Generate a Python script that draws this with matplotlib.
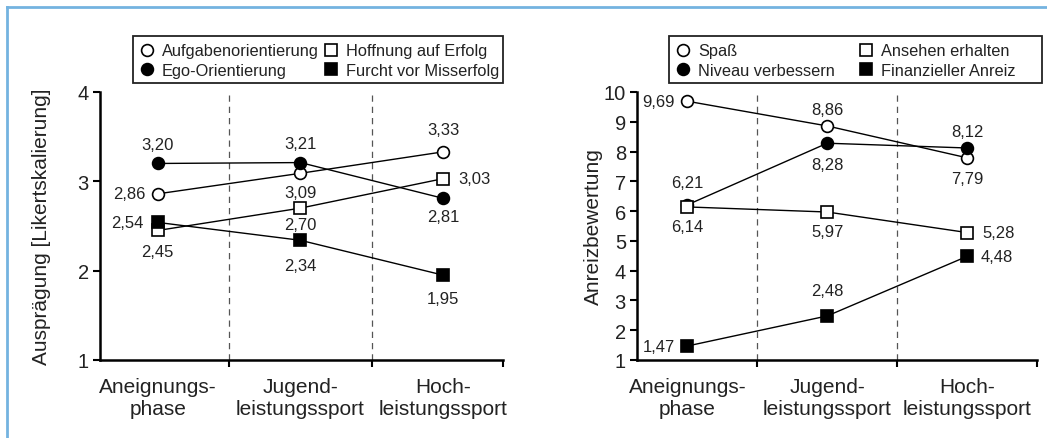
import matplotlib.pyplot as plt
from matplotlib.lines import Line2D
from matplotlib.patches import Rectangle

plt.rcParams['font.family'] = ['Liberation Sans', 'DejaVu Sans']

# Data
phases = ['Aneignungs-\nphase', 'Jugend-\nleistungssport', 'Hoch-\nleistungssport']

# left chart: Zielorientierung / Leistungsmotiv
aufgaben = [2.86, 3.09, 3.33]
ego = [3.20, 3.21, 2.81]
hoffnung = [2.45, 2.70, 3.03]
furcht = [2.54, 2.34, 1.95]

# right chart: Anreize
spass = [9.69, 8.86, 7.79]
niveau = [6.21, 8.28, 8.12]
ansehen = [6.14, 5.97, 5.28]
finanziell = [1.47, 2.48, 4.48]

# label offsets (points) per series and phase
left_series = [
    ('Aufgabenorientierung', aufgaben, 'o', 'white', [(-9, 0), (0, -14), (0, 16)]),
    ('Ego-Orientierung', ego, 'o', 'black', [(0, 14), (0, 14), (0, -13)]),
    ('Hoffnung auf Erfolg', hoffnung, 's', 'white', [(0, -15), (0, -12), (11, 0)]),
    ('Furcht vor Misserfolg', furcht, 's', 'black', [(-10, 0), (0, -18), (0, -17)]),
]
right_series = [
    ('Spaß', spass, 'o', 'white', [(-9, 0), (0, 12), (0, -15)]),
    ('Niveau verbessern', niveau, 'o', 'black', [(0, 16), (0, -15), (0, 12)]),
    ('Ansehen erhalten', ansehen, 's', 'white', [(0, -14), (0, -14), (11, 0)]),
    ('Finanzieller Anreiz', finanziell, 's', 'black', [(-9, 0), (0, 18), (10, 0)]),
]

TXT = '#222222'
W, H = 1047, 439

fig = plt.figure(figsize=(10.47, 4.39), dpi=100)
ax1 = fig.add_axes([100 / W, 1 - 361 / H, 403 / W, 268 / H])
ax2 = fig.add_axes([637 / W, 1 - 361 / H, 400 / W, 268 / H])


def draw(ax, series, ylim, yticks, ylabel, xlim, label_x):
    x = list(range(len(phases)))
    handles = []
    for name, vals, mk, fc, offs in series:
        ax.plot(x, vals, color='black', lw=1.0, marker=mk, ms=8.5,
                mfc=fc, mec='black', mew=1.2, zorder=3)
        handles.append(Line2D([], [], ls='none', marker=mk, ms=8.5,
                              mfc=fc, mec='black', mew=1.2, label=name))
        for xi, v, (dx, dy) in zip(x, vals, offs):
            ha = 'center' if dx == 0 else ('left' if dx > 0 else 'right')
            ax.annotate(f'{v:.2f}'.replace('.', ','), (xi, v), xytext=(dx, dy),
                        textcoords='offset points', ha=ha, va='center',
                        fontsize=12, color=TXT)
    for b in (0.5, 1.5):
        ax.axvline(b, color='#555555', lw=0.9, ls=(0, (5, 4)), zorder=1)
    ax.set_xlim(*xlim)
    ax.set_ylim(*ylim)
    ax.set_yticks(yticks)
    ax.set_xticks([0.5, 1.5, xlim[1]])
    ax.set_xticklabels([])
    ax.set_xticks(x, minor=True)
    ax.set_xticklabels(phases, minor=True, fontsize=15, color=TXT, linespacing=1.15)
    ax.tick_params(axis='x', which='minor', length=0, pad=12.5)
    ax.tick_params(axis='x', which='major', length=5, width=1.5, direction='out')
    ax.tick_params(axis='y', length=5, width=1.5, labelsize=14.5, pad=3, labelcolor=TXT)
    for s in ('top', 'right'):
        ax.spines[s].set_visible(False)
    for s in ('left', 'bottom'):
        ax.spines[s].set_linewidth(1.8)
    ax.set_ylabel(ylabel, fontsize=15, color=TXT)
    ax.yaxis.set_label_coords(label_x, 0.5)
    return handles


h1 = draw(ax1, left_series, (1, 4), [1, 2, 3, 4], 'Ausprägung [Likertskalierung]',
          (-0.405, 2.42), -0.122)
h2 = draw(ax2, right_series, (1, 10), list(range(1, 11)), 'Anreizbewertung',
          (-0.36, 2.5), -0.085)

# legend frames drawn separately so the box matches the original size
for x0, x1 in ((133, 503), (669, 1042)):
    fig.add_artist(Rectangle((x0 / W, 1 - 84 / H), (x1 - x0) / W, 47 / H,
                             transform=fig.transFigure, fc='white', ec='#222222',
                             lw=1.3, zorder=2))

leg_kw = dict(ncol=2, fontsize=11.8, frameon=False, handlelength=1.0,
              handletextpad=0.4, borderpad=0.3, labelspacing=0.28, loc='upper left',
              borderaxespad=0, labelcolor=TXT)
leg1 = fig.legend(handles=h1, bbox_to_anchor=(134 / W, 1 - 39.5 / H),
                  columnspacing=0.25, **leg_kw)
leg2 = fig.legend(handles=h2, bbox_to_anchor=(670 / W, 1 - 39.5 / H),
                  columnspacing=1.4, **leg_kw)
for leg in (leg1, leg2):
    leg.set_zorder(3)

# light blue frame at top and left
blue = '#74b3e0'
fig.add_artist(Line2D([6.5 / W, 1], [1 - 8 / H, 1 - 8 / H], color=blue, lw=2))
fig.add_artist(Line2D([6.5 / W, 6.5 / W], [0, 1 - 8 / H], color=blue, lw=2))

fig.savefig('out.png', dpi=100)
